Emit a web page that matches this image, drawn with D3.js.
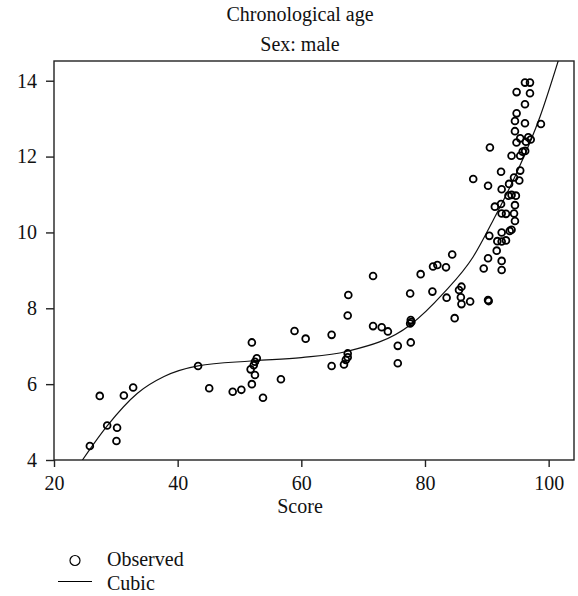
<!DOCTYPE html>
<html>
<head>
<meta charset="utf-8">
<script src="https://cdn.jsdelivr.net/npm/d3@7"></script>
<style>
  html, body { margin: 0; padding: 0; background: #fff; }
  svg { display: block; }
  text { font-family: "Liberation Serif", "Times New Roman", serif; fill: #111; }
</style>
</head>
<body>
<svg id="chart" width="578" height="596"></svg>
<script>
// Observed scores (x) and chronological ages (y)
const scores = [
  25.8, 27.4, 28.6, 30.2, 30.1, 31.3, 32.8, 43.3, 45.1, 48.9, 50.3,
  52.0, 52.0, 51.8, 52.8, 52.5, 52.3, 52.5, 53.8, 56.7, 58.9, 60.7, 64.9, 64.9,
  67.6, 67.5, 67.5, 67.5, 67.2, 66.9, 71.6, 71.6, 73.0, 74.0, 75.6, 75.6,
  77.6, 77.7, 77.8, 77.6, 77.7, 79.3, 81.2, 81.3, 82.0, 83.4, 83.5, 84.4, 84.8,
  85.5, 85.9, 85.8, 85.9, 87.3, 87.8, 89.5, 90.2, 90.2, 90.3, 90.4, 90.2, 90.5,
  91.3, 91.6, 91.7, 92.4, 93.1, 92.4, 92.4, 92.4, 93.7, 94.0,
  92.3, 94.55, 92.4, 93.1, 94.4, 94.55, 93.5, 94.0, 94.7, 92.4, 93.6, 94.4, 95.25,
  92.3, 95.4, 94.0, 95.4, 95.8, 96.2, 94.8, 96.33, 95.4, 96.7, 97.1,
  94.55, 94.55, 96.17, 98.75, 94.82, 96.17, 94.82, 96.98, 96.17, 96.98
];
const ages = [
  4.37, 5.69, 4.91, 4.85, 4.50, 5.70, 5.91, 6.48, 5.89, 5.80, 5.85,
  7.10, 6.00, 6.39, 6.68, 6.59, 6.50, 6.24, 5.64, 6.13, 7.40, 7.20, 7.30, 6.48,
  8.35, 7.81, 6.81, 6.71, 6.64, 6.52, 8.85, 7.53, 7.50, 7.39, 7.01, 6.55,
  8.39, 7.69, 7.64, 7.60, 7.10, 8.90, 8.44, 9.10, 9.14, 9.08, 8.28, 9.42, 7.74,
  8.48, 8.57, 8.29, 8.11, 8.18, 11.41, 9.05, 9.32, 8.22, 8.19, 9.91, 11.23, 12.24,
  10.68, 9.52, 9.77, 9.76, 9.79, 9.25, 9.01, 10.00, 10.04, 10.07,
  10.75, 10.72, 10.50, 10.49, 10.50, 10.30, 10.97, 10.99, 10.97, 11.14, 11.28, 11.45, 11.37,
  11.60, 11.63, 12.02, 12.02, 12.13, 12.15, 12.37, 12.39, 12.48, 12.51, 12.45,
  12.67, 12.94, 12.88, 12.86, 13.14, 13.38, 13.70, 13.67, 13.95, 13.95
];

// Cubic fit, sampled along its trace
const fitScores = [24.6, 28.6, 33.5, 37.8, 43.3, 51.8, 60.0, 67.3, 77.6, 83.0, 87.8, 91.05, 94.8, 98.6, 101.6];
const fitAges   = [4.00, 4.90, 5.76, 6.20, 6.48, 6.61, 6.70, 6.86, 7.56, 8.40, 9.36, 10.33, 11.56, 13.05, 14.55];

const xTicks = [20, 40, 60, 80, 100];
const yTicks = [4, 6, 8, 10, 12, 14];

const titleLines = ["Chronological age", "Sex: male"];
const xLabel = "Score";
const legendLabels = ["Observed", "Cubic"];

const svg = d3.select("#chart");
const plot = { left: 54, right: 574, top: 61, bottom: 460 };

const x = d3.scaleLinear().domain([20, 104.1]).range([plot.left, plot.right]);
const y = d3.scaleLinear().domain([4, 14.52]).range([plot.bottom, plot.top]);

const fontSize = 20;

// Titles
svg.append("text").attr("x", 300).attr("y", 21).attr("text-anchor", "middle")
  .style("font-size", fontSize + "px").text(titleLines[0]);
svg.append("text").attr("x", 300).attr("y", 51).attr("text-anchor", "middle")
  .style("font-size", fontSize + "px").text(titleLines[1]);

// Clip region for the marks
svg.append("defs").append("clipPath").attr("id", "plotClip")
  .append("rect").attr("x", plot.left).attr("y", plot.top)
  .attr("width", plot.right - plot.left).attr("height", plot.bottom - plot.top);

// Axes
const xAxis = d3.axisBottom(x).tickValues(xTicks).tickSize(7).tickPadding(5).tickSizeOuter(0);
const yAxis = d3.axisLeft(y).tickValues(yTicks).tickSize(8).tickPadding(9).tickSizeOuter(0);

const gx = svg.append("g").attr("transform", `translate(0,${plot.bottom})`).call(xAxis);
const gy = svg.append("g").attr("transform", `translate(${plot.left},0)`).call(yAxis);
[gx, gy].forEach(g => {
  g.select(".domain").remove();
  g.selectAll(".tick line").attr("stroke", "#222").attr("stroke-width", 1.4);
  g.selectAll(".tick text")
    .style("font-family", '"Liberation Serif", "Times New Roman", serif')
    .style("font-size", fontSize + "px").attr("fill", "#111");
});
gx.selectAll(".tick text").attr("dy", "0.9em");

// Frame
svg.append("rect")
  .attr("x", plot.left).attr("y", plot.top)
  .attr("width", plot.right - plot.left).attr("height", plot.bottom - plot.top)
  .attr("fill", "none").attr("stroke", "#222").attr("stroke-width", 1.4);

// Axis title
svg.append("text").attr("x", 300).attr("y", 513).attr("text-anchor", "middle")
  .style("font-size", fontSize + "px").text(xLabel);

const marks = svg.append("g").attr("clip-path", "url(#plotClip)");

// Fitted curve
const fit = d3.zip(fitScores, fitAges);
marks.append("path")
  .datum(fit)
  .attr("fill", "none").attr("stroke", "#111").attr("stroke-width", 1.2)
  .attr("d", d3.line().x(d => x(d[0])).y(d => y(d[1])).curve(d3.curveMonotoneX));

// Observed points
const obs = d3.zip(scores, ages);
marks.selectAll("circle.obs").data(obs).join("circle")
  .attr("class", "obs")
  .attr("cx", d => x(d[0])).attr("cy", d => y(d[1])).attr("r", 3.4)
  .attr("fill", "none").attr("stroke", "#000").attr("stroke-width", 1.8);

// Legend
const lg = svg.append("g");
lg.append("circle").attr("cx", 75).attr("cy", 560.5).attr("r", 5)
  .attr("fill", "none").attr("stroke", "#000").attr("stroke-width", 1.2);
lg.append("text").attr("x", 107).attr("y", 566).style("font-size", fontSize + "px").text(legendLabels[0]);
lg.append("line").attr("x1", 58).attr("x2", 92).attr("y1", 581.5).attr("y2", 581.5)
  .attr("stroke", "#000").attr("stroke-width", 1.2);
lg.append("text").attr("x", 107).attr("y", 590).style("font-size", fontSize + "px").text(legendLabels[1]);
</script>
</body>
</html>
